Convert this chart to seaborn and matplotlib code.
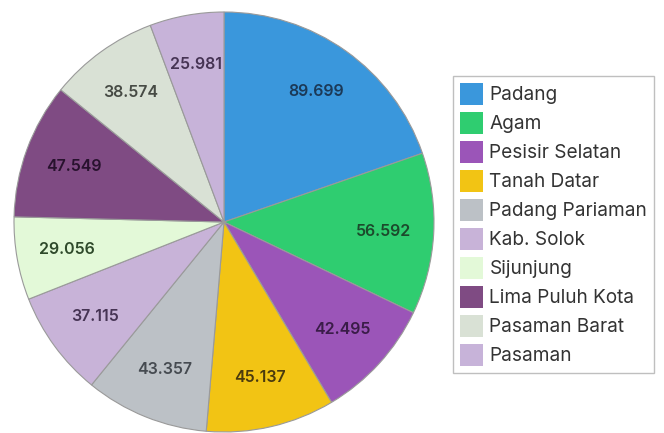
import matplotlib
matplotlib.use("Agg")
import matplotlib.pyplot as plt
import seaborn as sns
from matplotlib.patches import Patch

categories = ["Padang", "Agam", "Pesisir Selatan", "Tanah Datar", "Padang Pariaman",
              "Kab. Solok", "Sijunjung", "Lima Puluh Kota", "Pasaman Barat", "Pasaman"]
values = [89.699, 56.592, 42.495, 45.137, 43.357, 37.115, 29.056, 47.549, 38.574, 25.981]
value_labels = ["89.699", "56.592", "42.495", "45.137", "43.357",
                "37.115", "29.056", "47.549", "38.574", "25.981"]
slice_colors = ["#3a97dc", "#2fcd70", "#9b55b8", "#f2c414", "#bcc1c6",
                "#c8b3d8", "#e3f9d8", "#7f4b83", "#d9e1d5", "#c7b3d9"]
text_colors = ["#1b3957", "#1c4a2c", "#3a1c48", "#4a3a0e", "#464b51",
               "#463454", "#2f4a2b", "#28122e", "#474b45", "#463454"]

sns.set_theme(style="white")
plt.rcParams['font.family'] = ['Inter', 'DejaVu Sans']
palette = sns.color_palette(slice_colors)

fig = plt.figure(figsize=(6.64, 4.33), dpi=100)
ax = fig.add_axes([14/664, 1/433, 420/664, 420/433])
wedges, texts = ax.pie(values, colors=palette, startangle=90, counterclock=False,
                       labels=value_labels, labeldistance=0.76,
                       wedgeprops=dict(edgecolor="#9a9a9a", linewidth=0.8))
for t, c in zip(texts, text_colors):
    t.set_color(c)
    t.set_fontsize(11.5)
    t.set_fontweight("semibold")
    t.set_ha("center")
    t.set_va("center")
ax.set_xlim(-1.0, 1.0)
ax.set_ylim(-1.0, 1.0)
ax.set_aspect("equal")

handles = [Patch(facecolor=c, edgecolor="none") for c in palette]
leg = fig.legend(handles, categories, loc="upper left",
                 bbox_to_anchor=(453/664, 1 - 76/433), borderaxespad=0, frameon=True,
                 fontsize=13.7, labelspacing=0.37, handlelength=1.2, handleheight=1.4,
                 handletextpad=0.35, borderpad=0.36, fancybox=False)
leg.get_frame().set_edgecolor("#b0b0b0")
leg.get_frame().set_linewidth(1.0)
for t in leg.get_texts():
    t.set_color("#333333")

fig.savefig("out.png", dpi=100)
